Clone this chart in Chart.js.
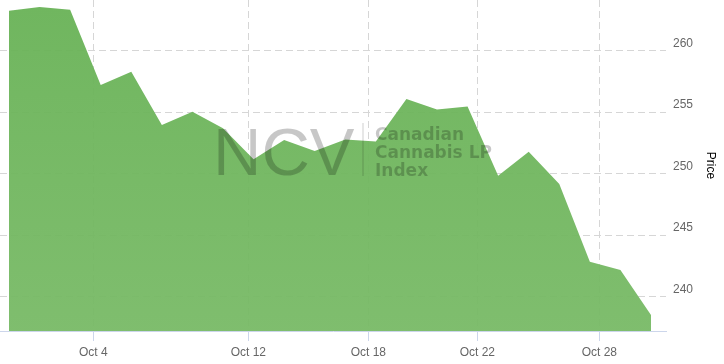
<!DOCTYPE html>
<html>
<head>
<meta charset="utf-8">
<script src="https://cdn.jsdelivr.net/npm/chart.js@4/dist/chart.umd.min.js"></script>
<style>
  html, body { margin: 0; padding: 0; background: #ffffff; }
  #wrap { width: 724px; height: 364px; position: relative; }
</style>
</head>
<body>
<div id="wrap"><canvas id="c" width="724" height="364"></canvas></div>
<script>
// Trading days (October)
const dates = ['Oct 1','Oct 2','Oct 3','Oct 4','Oct 5','Oct 9','Oct 10','Oct 11','Oct 12','Oct 15','Oct 16',
               'Oct 17','Oct 18','Oct 19','Oct 22','Oct 23','Oct 24','Oct 25','Oct 26','Oct 29','Oct 30','Oct 31'];
// Index price
const prices = [263.25, 263.55, 263.33, 257.21, 258.29, 253.96, 255.04, 253.69, 251.17, 252.74, 251.85,
                252.78, 252.62, 256.07, 255.22, 255.46, 249.84, 251.79, 249.16, 242.85, 242.17, 238.51];
// X-axis tick labels and their positions on the ordinal (trading-day index) axis
const xTickLabels = ['Oct 4', 'Oct 12', 'Oct 18', 'Oct 22', 'Oct 28'];
const xTickPositions = [2.758, 7.828, 11.753, 15.319, 19.31];
// Y-axis ticks
const yTickValues = [240, 245, 250, 255, 260];
const yAxisTitle = 'Price';
const watermarkBig = 'NCV';
const watermarkLines = ['Canadian', 'Cannabis LP', 'Index'];

const FONT = '"Liberation Sans", Arial, sans-serif';

const watermark = {
  id: 'watermark',
  afterDatasetsDraw(chart) {
    const ctx = chart.ctx;
    ctx.save();
    ctx.fillStyle = 'rgba(0,0,0,0.22)';
    ctx.textBaseline = 'alphabetic';
    ctx.textAlign = 'left';
    ctx.font = '67px ' + FONT;
    ctx.fillText(watermarkBig, 213, 175);
    ctx.strokeStyle = 'rgba(0,0,0,0.13)';
    ctx.lineWidth = 1.5;
    ctx.beginPath();
    ctx.moveTo(363, 123);
    ctx.lineTo(363, 176);
    ctx.stroke();
    ctx.font = 'bold 17px "DejaVu Sans", Verdana, sans-serif';
    watermarkLines.forEach((t, i) => ctx.fillText(t, 375, 140 + i * 18));
    ctx.restore();
  }
};

const ctx = document.getElementById('c').getContext('2d');
const chart = new Chart(ctx, {
  type: 'line',
  data: {
    labels: dates,
    datasets: [{
      label: 'NCV Canadian Cannabis LP Index',
      data: prices.map((v, i) => ({ x: i, y: v })),
      fill: 'start',
      borderWidth: 0,
      borderColor: 'rgba(0,0,0,0)',
      pointRadius: 0,
      pointHoverRadius: 0,
      tension: 0,
      backgroundColor: (c) => {
        const a = c.chart.chartArea;
        if (!a) return '#74b962';
        const g = c.chart.ctx.createLinearGradient(0, a.top, 0, a.bottom);
        g.addColorStop(0, 'rgba(104,178,86,0.95)');
        g.addColorStop(1, 'rgba(120,186,102,0.95)');
        return g;
      }
    }]
  },
  options: {
    responsive: false,
    animation: false,
    devicePixelRatio: 1,
    layout: { padding: 0 },
    plugins: {
      legend: { display: false },
      tooltip: { enabled: false },
      title: { display: false }
    },
    scales: {
      x: {
        type: 'linear',
        min: -0.2944,
        max: 21.4907,
        afterBuildTicks: (s) => { s.ticks = xTickPositions.map(v => ({ value: v })); },
        afterFit: (s) => { s.height = 33; s.paddingLeft = 0; s.paddingRight = 0; },
        ticks: {
          autoSkip: false,
          maxRotation: 0,
          minRotation: 0,
          padding: 4,
          color: '#666666',
          font: { family: FONT, size: 12 },
          callback: (v) => {
            const idx = xTickPositions.indexOf(v);
            return idx >= 0 ? xTickLabels[idx] : '';
          }
        },
        grid: {
          color: '#d6d6d6',
          lineWidth: 1,
          drawTicks: true,
          tickLength: 10,
          tickColor: '#ccd6eb',
          tickBorderDash: [],
          tickWidth: 1
        },
        border: { display: true, color: '#ccd6eb', width: 1, dash: [7, 4] }
      },
      y: {
        position: 'right',
        min: 237.21,
        max: 264.12,
        afterBuildTicks: (s) => { s.ticks = yTickValues.map(v => ({ value: v })); },
        afterFit: (s) => { s.width = 58; s.paddingTop = 0; s.paddingBottom = 0; },
        ticks: {
          padding: 7,
          labelOffset: -7,
          color: '#666666',
          font: { family: FONT, size: 12 }
        },
        grid: {
          color: '#d6d6d6',
          lineWidth: 1,
          drawTicks: false
        },
        border: { display: false, dash: [7, 4] },
        title: {
          display: true,
          text: yAxisTitle,
          color: '#000000',
          font: { family: FONT, size: 12 },
          padding: { top: 6, bottom: 0 }
        }
      }
    }
  },
  plugins: [watermark]
});
</script>
</body>
</html>
